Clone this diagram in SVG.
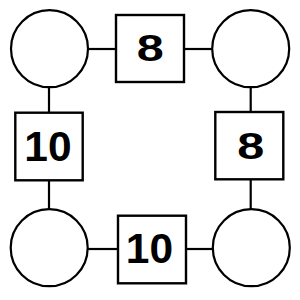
<svg xmlns="http://www.w3.org/2000/svg" width="300" height="300" viewBox="0 0 300 300">
<style>
.c{fill:#fff;stroke:#000;stroke-width:2.2}
.b{fill:#fff;stroke:#000;stroke-width:2.4}
.l{stroke:#000;stroke-width:2.2;fill:none}
.t{font-family:"Liberation Sans",Arial,sans-serif;font-weight:bold;text-anchor:middle;fill:#000}
</style>
<rect width="300" height="300" fill="#fff"/>
<g id="connectors">
<line class="l" x1="88" y1="49" x2="116" y2="49"/>
<line class="l" x1="184" y1="49" x2="212" y2="49"/>
<line class="l" x1="49" y1="87" x2="49" y2="113"/>
<line class="l" x1="250.7" y1="87" x2="250.7" y2="112"/>
<line class="l" x1="49" y1="180" x2="49" y2="210"/>
<line class="l" x1="250.7" y1="179" x2="250.7" y2="210"/>
<line class="l" x1="88" y1="249" x2="118" y2="249"/>
<line class="l" x1="186" y1="249" x2="213" y2="249"/>
</g>
<g id="circle-tl"><circle class="c" cx="49.5" cy="48.7" r="38.5"/></g>
<g id="circle-tr"><circle class="c" cx="250.7" cy="48.7" r="38.5"/></g>
<g id="circle-bl"><circle class="c" cx="49.2" cy="247.7" r="38.5"/></g>
<g id="circle-br"><circle class="c" cx="251.3" cy="247.7" r="38.5"/></g>
<g id="box-top"><rect class="b" x="116" y="15" width="68" height="67"/><text class="t" x="150.3" y="60.7" font-size="36" textLength="27" lengthAdjust="spacingAndGlyphs">8</text></g>
<g id="box-left"><rect class="b" x="15.3" y="112.7" width="67.4" height="67.6"/><text class="t" x="48" y="161.3" font-size="42.5">10</text></g>
<g id="box-right"><rect class="b" x="215.3" y="112" width="68" height="67.3"/><text class="t" x="250.7" y="158.5" font-size="36" textLength="27" lengthAdjust="spacingAndGlyphs">8</text></g>
<g id="box-bottom"><rect class="b" x="118" y="215.7" width="68" height="67.6"/><text class="t" x="149.5" y="263.3" font-size="42.5">10</text></g>
</svg>
